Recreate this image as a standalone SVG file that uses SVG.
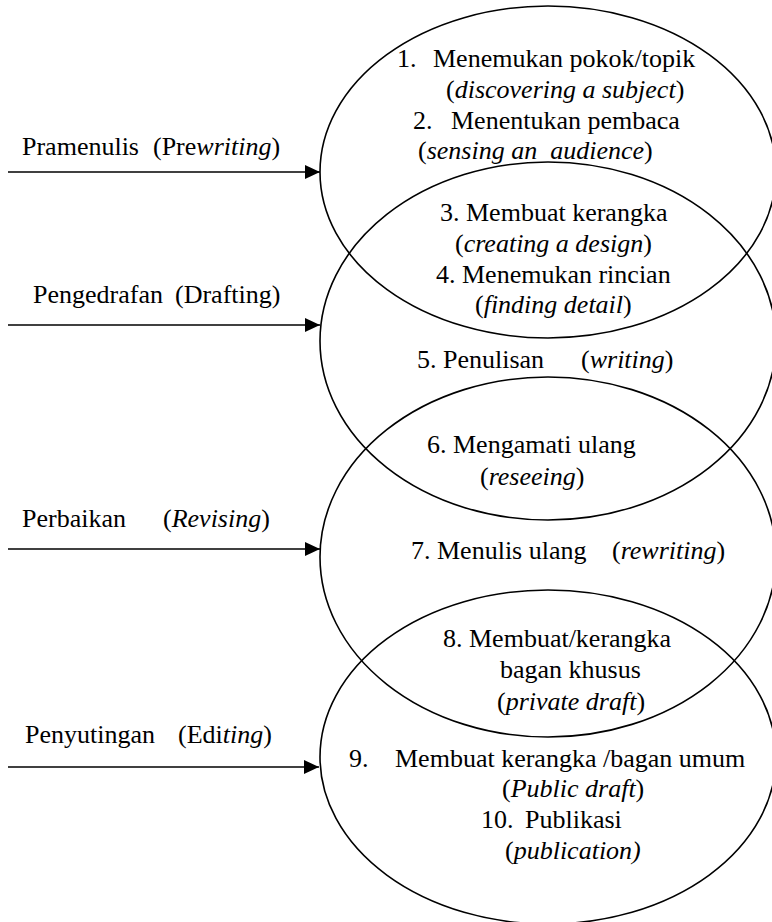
<svg xmlns="http://www.w3.org/2000/svg" width="772" height="922" viewBox="0 0 772 922">
<style>
.e{fill:none;stroke:#000;stroke-width:1.6}
.i{font-style:italic}
.c{stroke:#000;stroke-width:1.6;fill:none}
</style>
<defs>
<marker id="ah" markerWidth="16" markerHeight="14" refX="15" refY="7" orient="auto" markerUnits="userSpaceOnUse">
<path d="M0,0 L15,7 L0,14 Z" fill="#000"/>
</marker>
</defs>
<rect width="772" height="922" fill="#fff"/>
<g font-family="Liberation Serif" font-size="26" fill="#000">
<g id="stage1">
<ellipse class="e" cx="548" cy="172" rx="228" ry="166"/>
<text x="397" y="67">1.</text>
<text x="433" y="67">Menemukan pokok/topik</text>
<text x="446" y="98">(<tspan class="i">discovering a subject</tspan>)</text>
<text x="413" y="129">2.</text>
<text x="451" y="129">Menentukan pembaca</text>
<text x="418" y="159" xml:space="preserve">(<tspan class="i">sensing an  audience</tspan>)</text>
</g>
<g id="stage2">
<ellipse class="e" cx="548" cy="341" rx="228" ry="179"/>
<text x="440" y="221">3. Membuat kerangka</text>
<text x="455" y="252">(<tspan class="i">creating a design</tspan>)</text>
<text x="436" y="283">4. Menemukan rincian</text>
<text x="475" y="313">(<tspan class="i">finding detail</tspan>)</text>
<text x="417" y="368">5. Penulisan</text>
<text x="581" y="368">(<tspan class="i">writing</tspan>)</text>
</g>
<g id="stage3">
<ellipse class="e" cx="548" cy="557" rx="228" ry="180"/>
<text x="427" y="453">6. Mengamati ulang</text>
<text x="480" y="485">(<tspan class="i">reseeing</tspan>)</text>
<text x="411" y="559">7. Menulis ulang</text>
<text x="612" y="559">(<tspan class="i">rewriting</tspan>)</text>
</g>
<g id="stage4">
<ellipse class="e" cx="548" cy="757" rx="228" ry="167"/>
<text x="443" y="647">8. Membuat/kerangka</text>
<text x="500" y="678">bagan khusus</text>
<text x="497" y="710">(<tspan class="i">private draft</tspan>)</text>
<text x="349" y="767">9.</text>
<text x="395" y="767">Membuat kerangka /bagan umum</text>
<text x="502" y="797">(<tspan class="i">Public draft</tspan>)</text>
<text x="481" y="828">10.</text>
<text x="525" y="828">Publikasi</text>
<text x="505" y="859">(<tspan class="i">publication)</tspan></text>
</g>
<g id="labels">
<text x="22" y="155">Pramenulis</text>
<text x="153" y="155">(Pre<tspan class="i">writing</tspan>)</text>
<text x="33" y="303">Pengedrafan</text>
<text x="175" y="303">(Drafting)</text>
<text x="22" y="527">Perbaikan</text>
<text x="163" y="527">(<tspan class="i">Revising</tspan>)</text>
<text x="25" y="743">Penyutingan</text>
<text x="178" y="743">(Edi<tspan class="i">ting</tspan>)</text>
</g>
</g>
<g id="connectors">
<line class="c" x1="8" y1="172" x2="320" y2="172" marker-end="url(#ah)"/>
<line class="c" x1="8" y1="325" x2="320" y2="325" marker-end="url(#ah)"/>
<line class="c" x1="8" y1="549" x2="320" y2="549" marker-end="url(#ah)"/>
<line class="c" x1="8" y1="767" x2="319" y2="767" marker-end="url(#ah)"/>
</g>
</svg>
